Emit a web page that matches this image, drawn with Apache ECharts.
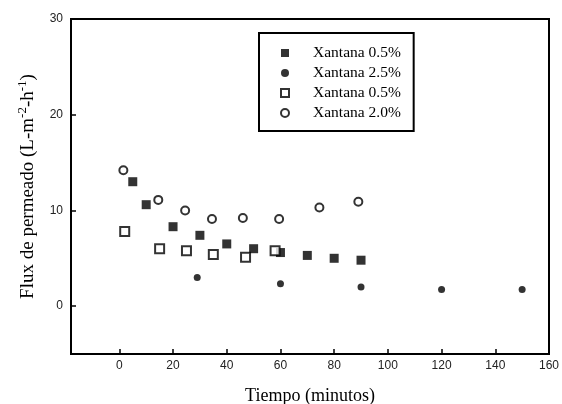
<!DOCTYPE html>
<html lang="es">

<head>
    <meta charset="UTF-8">
    <title>Flux de permeado</title>
    <script src="https://cdn.jsdelivr.net/npm/echarts@6.0.0/dist/echarts.min.js"></script>
    <style>
        html, body { margin: 0; padding: 0; background: #fff; }
    </style>
</head>

<body>
    <div id="main" style="width: 562px; height: 404px;"></div>
    <script>
        // tiempo (min) y flux (L m-2 h-1)
        var tA = [5, 10, 20, 30, 40, 50, 60, 70, 80, 90];
        var fA = [13.0, 10.6, 8.3, 7.4, 6.5, 6.0, 5.6, 5.3, 5.0, 4.8];

        var tB = [29, 60, 90, 120, 150];
        var fB = [3.0, 2.35, 2.0, 1.75, 1.75];

        var tC = [2, 15, 25, 35, 47, 58];
        var fC = [7.8, 6.0, 5.8, 5.4, 5.1, 5.8];

        var tD = [1.5, 14.5, 24.5, 34.5, 46, 59.5, 74.5, 89];
        var fD = [14.2, 11.1, 10.0, 9.1, 9.2, 9.1, 10.3, 10.9];

        var names = ['Xantana 0.5%', 'Xantana 2.5%', 'Xantana 0.5% ', 'Xantana 2.0%'];
        var xTicks = [0, 20, 40, 60, 80, 100, 120, 140, 160];
        var yTicks = [0, 10, 20, 30];

        function pairs(t, f) {
            return t.map(function (v, i) { return [v, f[i]]; });
        }

        var serif = 'Liberation Serif';
        var sans = 'Liberation Sans';

        var chartDom = document.getElementById('main');
        var myChart = echarts.init(chartDom);
        var option = {
            animation: false,
            backgroundColor: '#fff',
            grid: {
                left: 71, right: 13, top: 19, bottom: 50,
                outerBoundsMode: 'none', containLabel: false,
                show: true, borderColor: '#000', borderWidth: 2
            },
            legend: {
                left: 259, top: 33,
                orient: 'vertical',
                borderColor: '#000', borderWidth: 2,
                padding: [12, 9, 10, 21],
                itemWidth: 8, itemHeight: 8, itemGap: 4,
                textStyle: { fontFamily: serif, fontSize: 15.5, color: '#000', lineHeight: 16, padding: [0, 0, 0, 19] },
                data: names
            },
            xAxis: {
                type: 'value', min: -18, max: 160,
                name: 'Tiempo (minutos)', nameLocation: 'middle', nameGap: 33,
                nameTextStyle: { fontFamily: serif, fontSize: 18, color: '#000' },
                axisLine: { onZero: false, lineStyle: { color: '#000', width: 2 } },
                axisTick: { inside: true, length: 5, customValues: xTicks, lineStyle: { color: '#000', width: 1.5 } },
                axisLabel: { customValues: xTicks, margin: 6, fontFamily: sans, fontSize: 12, color: '#222' },
                splitLine: { show: false }
            },
            yAxis: {
                type: 'value', min: -5, max: 30,
                name: '{t|Flux de permeado (L-m}{s|-2}{t|-h}{s|-1}{t|)}',
                nameLocation: 'middle', nameGap: 31,
                nameTextStyle: {
                    rich: {
                        t: { fontFamily: serif, fontSize: 19, color: '#000', lineHeight: 24 },
                        s: { fontFamily: serif, fontSize: 13, color: '#000', lineHeight: 13, verticalAlign: 'top' }
                    }
                },
                axisLine: { onZero: false, lineStyle: { color: '#000', width: 2 } },
                axisTick: { inside: true, length: 5, customValues: yTicks, lineStyle: { color: '#000', width: 1.5 } },
                axisLabel: { customValues: yTicks, margin: 8, fontFamily: sans, fontSize: 12, color: '#222' },
                splitLine: { show: false }
            },
            series: [
                {
                    name: names[0], type: 'scatter', symbol: 'rect', symbolSize: 9,
                    itemStyle: { color: '#000' },
                    data: pairs(tA, fA)
                },
                {
                    name: names[1], type: 'scatter', symbol: 'circle', symbolSize: 7,
                    itemStyle: { color: '#000' },
                    data: pairs(tB, fB)
                },
                {
                    name: names[2], type: 'scatter', symbol: 'rect', symbolSize: 9,
                    itemStyle: { color: '#fff', borderColor: '#000', borderWidth: 2 },
                    data: pairs(tC, fC)
                },
                {
                    name: names[3], type: 'scatter', symbol: 'circle', symbolSize: 8,
                    itemStyle: { color: '#fff', borderColor: '#000', borderWidth: 2 },
                    data: pairs(tD, fD)
                }
            ]
        };

        myChart.setOption(option);
    </script>
</body>

</html>
